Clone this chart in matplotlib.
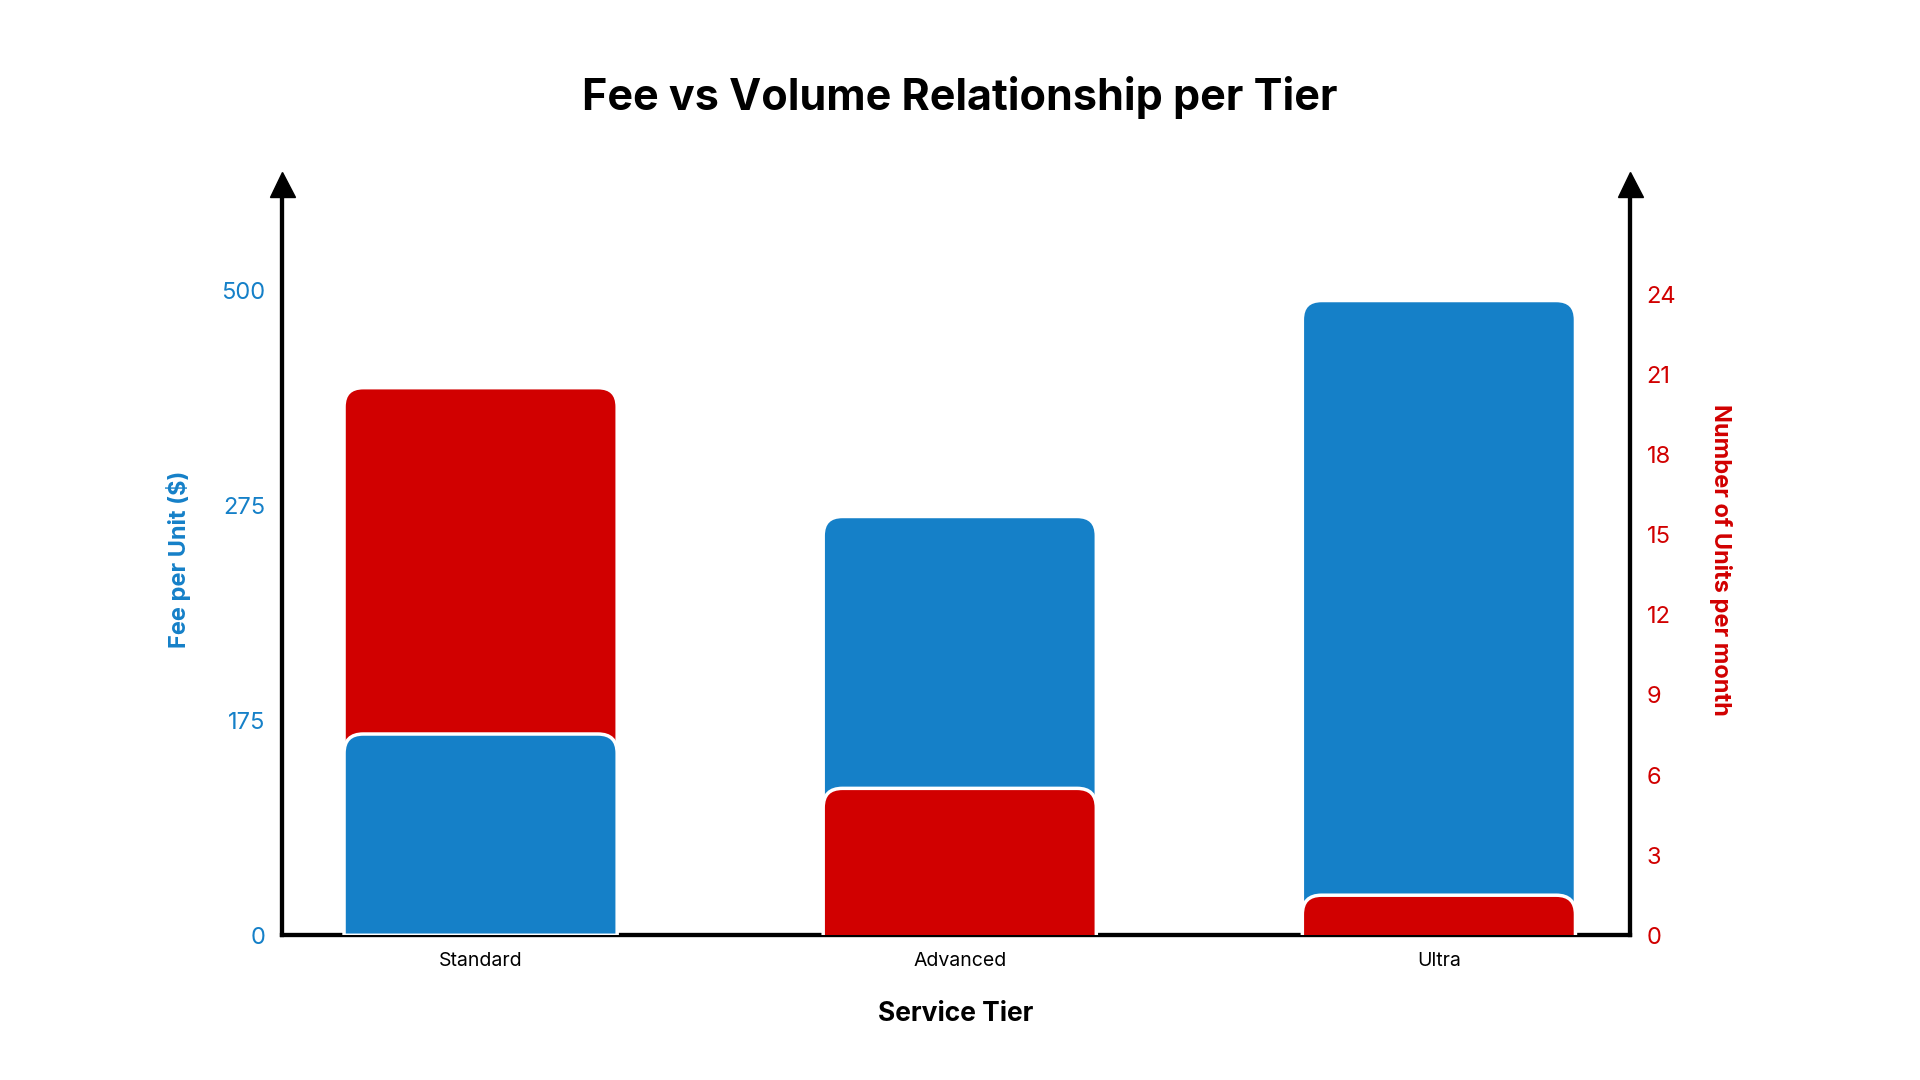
import numpy as np
import matplotlib
matplotlib.use("Agg")
import matplotlib.pyplot as plt
from matplotlib.patches import FancyBboxPatch

plt.rcParams['font.family'] = ['Inter', 'DejaVu Sans']

tiers = ["Standard", "Advanced", "Ultra"]
fees = [164, 270, 490]
units = [20.5, 5.5, 1.5]
fee_ticks = [0, 175, 275, 500]
unit_ticks = [0, 3, 6, 9, 12, 15, 18, 21, 24]

BLUE = "#1580C8"
RED = "#D10000"

# piecewise-linear fee scale: ticks equally spaced
fp = np.array([0, 175, 275, 500, 725], float)
ip = np.arange(len(fp), dtype=float)
def fwd(v):
    return np.interp(v, fp, ip)
def inv(v):
    return np.interp(v, ip, fp)

fig = plt.figure(figsize=(19.2, 10.8), dpi=100)
ax = fig.add_axes([0.147, 0.134, 0.702, 0.696])
ax2 = ax.twinx()
ax.set_yscale('function', functions=(fwd, inv))
ax.set_ylim(0, inv(3.5))
ax.set_xlim(-0.414, 2.399)
ax2.set_ylim(0, 28.14)
ax2.set_xlim(ax.get_xlim())

ax_h_px = 0.696 * 1080
x_px_per_unit = 0.702 * 1920 / (2.399 + 0.414)
w = 0.57
r = 0.04

def fee_vpp(v):
    seg = min(int(fwd(v)), 3)
    return (fp[seg + 1] - fp[seg]) / (ax_h_px / 3.5)

for i, (f, u) in enumerate(zip(fees, units)):
    blue_front = fwd(f) / 3.5 < u / 28.14
    aspb = x_px_per_unit * r * fee_vpp(f * 0.98) / r / x_px_per_unit * x_px_per_unit
    pb = FancyBboxPatch((i - w / 2, -50), w, f + 50,
                        boxstyle=f"round,pad=0,rounding_size={r}",
                        mutation_aspect=x_px_per_unit * fee_vpp(f * 0.98),
                        fc=BLUE, ec="white", lw=2.5,
                        transform=ax.transData, zorder=3 if blue_front else 2)
    pr = FancyBboxPatch((i - w / 2, -2), w, u + 2,
                        boxstyle=f"round,pad=0,rounding_size={r}",
                        mutation_aspect=x_px_per_unit * 28.14 / ax_h_px,
                        fc=RED, ec="white", lw=2.5,
                        transform=ax2.transData, zorder=2 if blue_front else 3)
    ax.add_patch(pb)
    ax.add_patch(pr)

ax2.set_zorder(0)
ax.set_zorder(1)
ax.patch.set_visible(False)

ax.set_xticks(range(len(tiers)))
ax.set_xticklabels(tiers, fontsize=14)
ax.tick_params(axis='x', length=0, pad=12)
ax.set_yticks(fee_ticks)
ax.set_yticklabels([str(t) for t in fee_ticks], fontsize=17, color=BLUE)
ax.yaxis.set_minor_locator(matplotlib.ticker.NullLocator())
ax.tick_params(axis='y', length=0, pad=12)
ax2.set_yticks(unit_ticks)
ax2.set_yticklabels([str(t) for t in unit_ticks], fontsize=17, color=RED)
ax2.tick_params(axis='y', length=0, pad=12)

for a in (ax, ax2):
    a.spines['top'].set_visible(False)
    for s in ('left', 'right', 'bottom'):
        a.spines[s].set_linewidth(3)
        a.spines[s].set_color('black')

for xa in (0, 1):
    ax.plot([xa], [1.0], marker='^', markersize=18, color='black',
            transform=ax.transAxes, clip_on=False, zorder=5)

ax.set_xlabel("Service Tier", fontsize=19, fontweight='bold', labelpad=22)
ax.set_ylabel("Fee per Unit ($)", fontsize=17, fontweight='bold', color=BLUE, labelpad=22)
ax2.set_ylabel("Number of Units per month", fontsize=17, fontweight='bold', color=RED,
               rotation=270, labelpad=40)
fig.suptitle("Fee vs Volume Relationship per Tier", fontsize=31, fontweight='bold', y=0.93)

fig.savefig("out.png", dpi=100, facecolor='white')
